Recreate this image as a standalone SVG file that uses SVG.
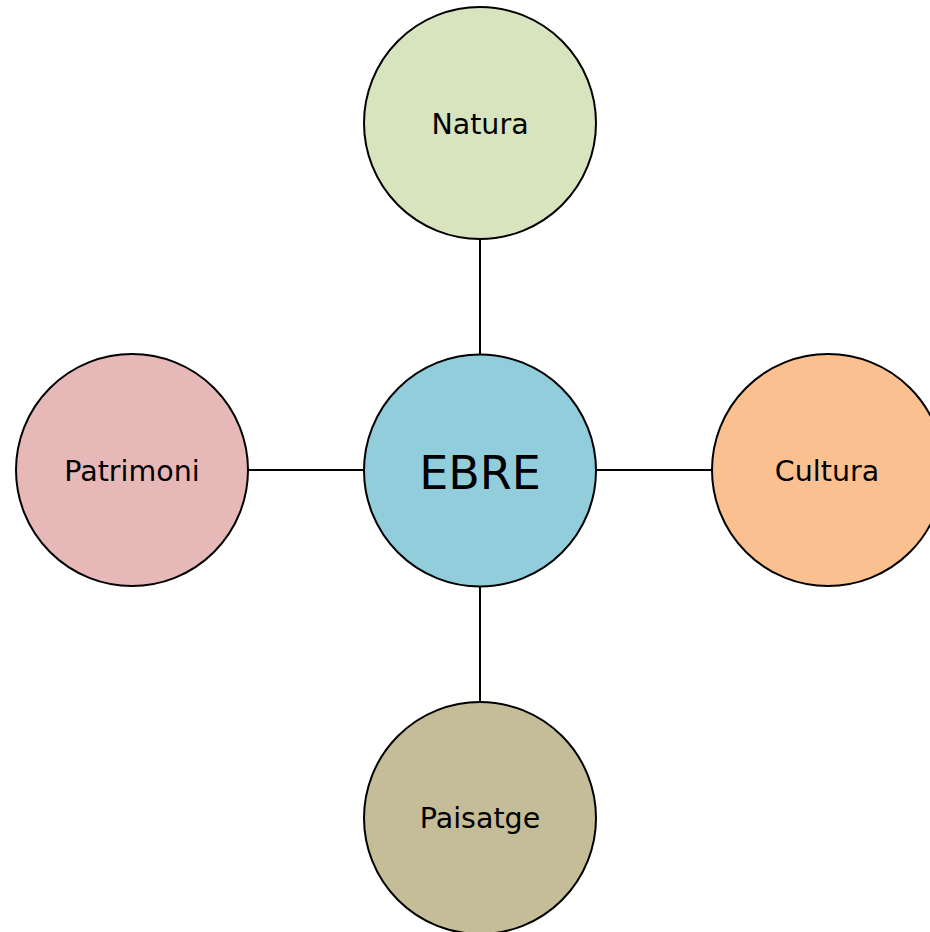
<svg xmlns="http://www.w3.org/2000/svg" width="930" height="932" viewBox="0 0 930 932">
<style>
.node circle{stroke:#000;stroke-width:2}
.lbl{font-family:"DejaVu Sans","Liberation Sans",sans-serif;font-size:28.5px;fill:#000;text-anchor:middle}
.big{font-size:46px}
#connectors line{stroke:#000;stroke-width:2}
</style>
<rect width="930" height="932" fill="#fff"/>
<g id="connectors">
<line x1="480" y1="239" x2="480" y2="355"/>
<line x1="480" y1="586" x2="480" y2="702"/>
<line x1="248" y1="470" x2="364" y2="470"/>
<line x1="596" y1="470" x2="712" y2="470"/>
</g>
<g id="natura" class="node"><circle cx="480" cy="123" r="116" fill="#D7E4BD"/><text class="lbl" x="480" y="133.5">Natura</text></g>
<g id="ebre" class="node"><circle cx="480" cy="470.5" r="116" fill="#92CDDC"/><text class="lbl big" x="480" y="489">EBRE</text></g>
<g id="patrimoni" class="node"><circle cx="132" cy="470" r="116" fill="#E6B9B8"/><text class="lbl" x="132" y="481">Patrimoni</text></g>
<g id="cultura" class="node"><circle cx="828" cy="470" r="116" fill="#FAC090"/><text class="lbl" x="827" y="480.5">Cultura</text></g>
<g id="paisatge" class="node"><circle cx="480" cy="818" r="116" fill="#C4BD97"/><text class="lbl" x="480" y="828">Paisatge</text></g>
</svg>
